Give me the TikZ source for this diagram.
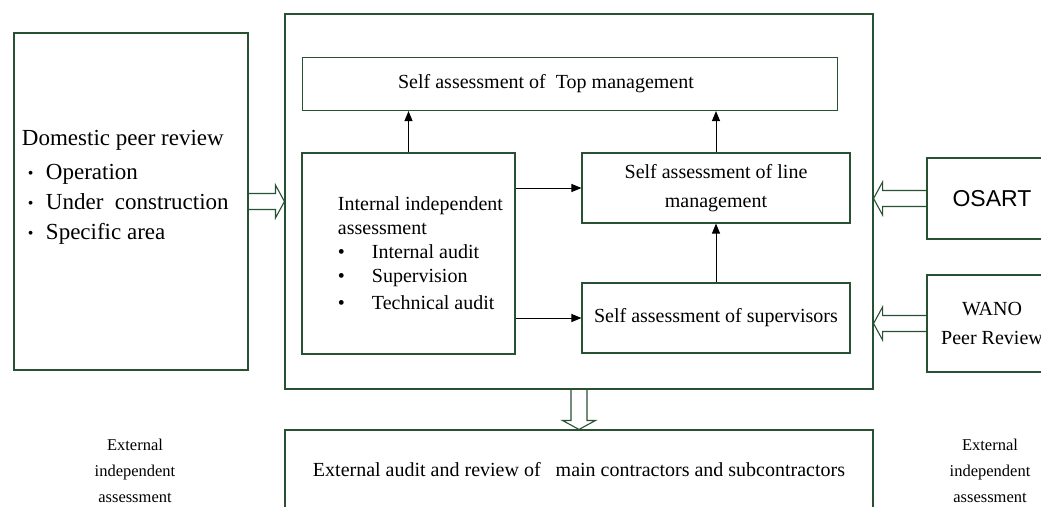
\documentclass[tikz,border=0pt]{standalone}
\usepackage{fontspec}
\setmainfont{Liberation Serif}
\newfontfamily\arialfont{Liberation Sans}
\usetikzlibrary{arrows.meta,calc}

\definecolor{boxgreen}{RGB}{40,80,50}

\tikzset{
    box/.style={draw=boxgreen, line width=1.1pt, inner sep=0pt},
    flow/.style={-{Triangle[length=10pt,width=8pt]}, line width=1pt, black},
    fat/.style={draw=boxgreen, line width=1.1pt, line join=miter},
    txt/.style={font=\fontsize{20}{29}\selectfont},
}

% hollow block arrow from #1 to its tip #2
\newcommand{\fatarrow}[2]{%
    \coordinate (hb) at ($(#2)!9pt!(#1)$);
    \draw[fat] ($(#1)!8pt!90:(#2)$) -- ($(hb)!8pt!90:(#2)$) -- ($(hb)!16.5pt!90:(#2)$)
        -- (#2) -- ($(hb)!16.5pt!-90:(#2)$) -- ($(hb)!8pt!-90:(#2)$) -- ($(#1)!8pt!-90:(#2)$);
}
\newcommand{\dombullet}{\makebox[24pt][l]{\hspace*{6pt}\raisebox{1.5pt}{\fontsize{16}{16}\selectfont\textbullet}}}

\begin{document}
\begin{tikzpicture}[x=1pt, y=-1pt]
    \clip (0,0) rectangle (1041,506);

    % external review on the left
    \node[box, minimum width=234pt, minimum height=337pt] (dom) at (131,201.5) {};
    \node[anchor=west, align=left, font=\fontsize{23}{30}\selectfont] (domText) at ([xshift=5pt,yshift=14pt]dom.west)
        {Domestic peer review\\[4pt]
         \dombullet Operation\\
         \dombullet Under\ \ construction\\
         \dombullet Specific area};

    % the plant itself
    \node[box, minimum width=588pt, minimum height=375pt] (main) at (579,201.5) {};
    \node[box, txt, minimum width=535pt, minimum height=53pt] (top) at (570,84) {\hspace*{-48pt}Self assessment of\ \ Top management};
    \node[box, minimum width=213pt, minimum height=201pt] (internal) at (408.5,253.5) {};
    \node[anchor=west, align=left, font=\fontsize{20}{24}\selectfont] (internalText) at ([xshift=33pt]internal.west)
        {Internal independent\\
         assessment\\
         \makebox[34pt][l]{\textbullet}Internal audit\\
         \makebox[34pt][l]{\textbullet}Supervision\\[3pt]
         \makebox[34pt][l]{\textbullet}Technical audit};
    \node[box, txt, align=center, minimum width=268pt, minimum height=70pt] (line) at (716,188) {Self assessment of line\\management};
    \node[box, txt, minimum width=268pt, minimum height=70pt] (sup) at (716,318) {Self assessment of supervisors};

    % international reviews
    \node[box, font=\arialfont\fontsize{23}{28}\selectfont, minimum width=130pt, minimum height=81pt] (osart) at (992,198.5) {OSART};
    \node[box, txt, align=center, minimum width=130pt, minimum height=97pt] (wano) at (992,323.5) {WANO\\Peer Review};

    % contractors
    \node[box, txt, minimum width=588pt, minimum height=82pt] (ext) at (579,471)
        {\raisebox{4pt}{External audit and review of\ \ \ main contractors and subcontractors}};

    \node[align=center, font=\fontsize{16.5}{26}\selectfont] (extL) at (135,471) {External\\independent\\assessment};
    \node[align=center, font=\fontsize{16.5}{26}\selectfont] (extR) at (990,471) {External\\independent\\assessment};

    \draw[flow] (internal.north) -- (internal.north |- top.south);
    \draw[flow] (line.north) -- (line.north |- top.south);
    \draw[flow] (sup.north) -- (line.south);
    \draw[flow] (internal.east |- line.west) -- (line.west);
    \draw[flow] (internal.east |- sup.west) -- (sup.west);

    \coordinate (osartTip) at (main.east |- osart.west);
    \coordinate (wanoTip) at (main.east |- wano.west);
    \fatarrow{dom.east}{main.west}
    \fatarrow{osart.west}{osartTip}
    \fatarrow{wano.west}{wanoTip}
    \fatarrow{main.south}{ext.north}
\end{tikzpicture}
\end{document}
